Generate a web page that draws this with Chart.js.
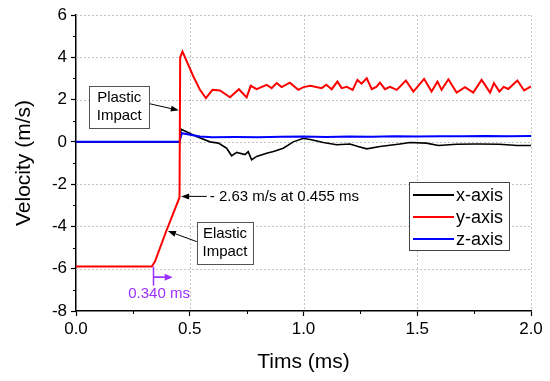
<!DOCTYPE html>
<html><head><meta charset="utf-8">
<script src="https://cdn.jsdelivr.net/npm/chart.js@4/dist/chart.umd.min.js"></script>
<style>html,body{margin:0;padding:0;background:#fff}#wrap{width:550px;height:381px}</style>
</head><body><div id="wrap"><canvas id="c" width="550" height="381"></canvas></div>
<script>
const seriesNames = ['x-axis', 'y-axis', 'z-axis'];
const seriesColors = ['#000000', '#ff0000', '#0000ff'];

const xTime = [0, 0.455, 0.462, 0.53, 0.589, 0.626, 0.662, 0.684, 0.706, 0.743, 0.757, 0.772, 0.794, 0.838, 0.868, 0.911, 0.955, 1.0, 1.04, 1.087, 1.146, 1.204, 1.24, 1.278, 1.336, 1.424, 1.468, 1.54, 1.593, 1.673, 1.76, 1.86, 1.94, 2.0];
const xVel  = [0, 0, 0.6, 0.25, 0.0, -0.06, -0.3, -0.66, -0.5, -0.6, -0.46, -0.85, -0.69, -0.54, -0.46, -0.3, 0.0, 0.17, 0.09, -0.03, -0.14, -0.1, -0.22, -0.33, -0.22, -0.1, -0.03, -0.06, -0.17, -0.11, -0.1, -0.11, -0.17, -0.17];

const yTime = [0, 0.333, 0.347, 0.396, 0.455, 0.458, 0.468, 0.516, 0.545, 0.571, 0.60, 0.633, 0.677, 0.716, 0.75, 0.768, 0.794, 0.838, 0.86, 0.882, 0.904, 0.94, 0.977, 1.0, 1.03, 1.08, 1.10, 1.124, 1.149, 1.168, 1.19, 1.216, 1.237, 1.255, 1.278, 1.30, 1.32, 1.336, 1.358, 1.38, 1.41, 1.45, 1.483, 1.53, 1.563, 1.589, 1.607, 1.637, 1.673, 1.71, 1.746, 1.783, 1.82, 1.837, 1.861, 1.88, 1.90, 1.94, 1.97, 2.0];
const yVel  = [-5.9, -5.9, -5.66, -4.24, -2.63, 4.0, 4.27, 3.09, 2.46, 2.07, 2.46, 2.43, 2.11, 2.49, 2.1, 2.65, 2.49, 2.7, 2.54, 2.78, 2.59, 2.8, 2.46, 2.59, 2.65, 2.54, 2.7, 2.49, 2.85, 2.54, 2.6, 2.46, 2.93, 2.75, 3.01, 2.49, 2.6, 2.8, 2.49, 2.6, 2.46, 2.9, 2.38, 2.98, 2.38, 2.85, 2.46, 2.96, 2.33, 2.59, 2.33, 2.93, 2.33, 2.78, 2.38, 2.6, 2.5, 2.9, 2.43, 2.62];

const zTime = [0, 0.455, 0.465, 0.545, 0.6, 0.7, 0.8, 0.9, 1.0, 1.1, 1.2, 1.3, 1.4, 1.5, 1.6, 1.7, 1.8, 1.9, 2.0];
const zVel  = [0, 0, 0.41, 0.25, 0.22, 0.23, 0.22, 0.24, 0.25, 0.23, 0.25, 0.24, 0.26, 0.25, 0.27, 0.26, 0.28, 0.27, 0.28];

const xTickLabels = ['0.0', '0.5', '1.0', '1.5', '2.0'];
const yTickLabels = ['-8', '-6', '-4', '-2', '0', '2', '4', '6'];

const FONT = '"Liberation Sans", Arial, sans-serif';
const PURPLE = '#9b30ff';

function pts(t, v) { return t.map((x, i) => ({x: x, y: v[i]})); }

function arrow(ctx, x1, y1, x2, y2, color, headLen, headW) {
  ctx.save();
  ctx.strokeStyle = color; ctx.fillStyle = color; ctx.lineWidth = 1;
  const a = Math.atan2(y2 - y1, x2 - x1);
  const bx = x2 - headLen * Math.cos(a), by = y2 - headLen * Math.sin(a);
  ctx.beginPath(); ctx.moveTo(x1, y1); ctx.lineTo(bx, by); ctx.stroke();
  ctx.beginPath();
  ctx.moveTo(x2, y2);
  ctx.lineTo(bx + headW * Math.sin(a), by - headW * Math.cos(a));
  ctx.lineTo(bx - headW * Math.sin(a), by + headW * Math.cos(a));
  ctx.closePath(); ctx.fill();
  ctx.restore();
}

const gridPlugin = {
  id: 'gridDots',
  beforeDatasetsDraw(chart) {
    const ctx = chart.ctx, xs = chart.scales.x, ys = chart.scales.y, ca = chart.chartArea;
    ctx.save();
    ctx.strokeStyle = '#c4c4c4'; ctx.lineWidth = 1; ctx.setLineDash([2, 2]);
    xTickLabels.forEach(l => {
      const v = parseFloat(l); if (v === 0) return;
      const px = Math.round(xs.getPixelForValue(v)) + 0.5;
      ctx.beginPath(); ctx.moveTo(px, ca.top); ctx.lineTo(px, ca.bottom); ctx.stroke();
    });
    yTickLabels.forEach(l => {
      const v = parseFloat(l); if (v === -8) return;
      const py = Math.round(ys.getPixelForValue(v)) + 0.5;
      ctx.beginPath(); ctx.moveTo(ca.left, py); ctx.lineTo(ca.right, py); ctx.stroke();
    });
    ctx.restore();
  }
};

const extras = {
  id: 'extras',
  afterDatasetsDraw(chart) {
    const ctx = chart.ctx, xs = chart.scales.x, ys = chart.scales.y, ca = chart.chartArea;
    const X = v => xs.getPixelForValue(v), Y = v => ys.getPixelForValue(v);
    ctx.save();
    // minor ticks
    ctx.strokeStyle = '#000'; ctx.lineWidth = 1;
    for (let v = -7; v <= 5; v += 2) {
      const py = Math.round(Y(v)) + 0.5;
      ctx.beginPath(); ctx.moveTo(ca.left - 3, py); ctx.lineTo(ca.left, py); ctx.stroke();
    }
    for (const v of [0.25, 0.75, 1.25, 1.75]) {
      const px = Math.round(X(v)) + 0.5;
      ctx.beginPath(); ctx.moveTo(px, ca.bottom); ctx.lineTo(px, ca.bottom + 3); ctx.stroke();
    }
    // annotation boxes
    ctx.font = '15px ' + FONT; ctx.textAlign = 'center'; ctx.textBaseline = 'middle'; ctx.fillStyle = '#000';
    function box(t1, v1, t2, v2, lines) {
      const x1 = X(t1), y1 = Y(v1), x2 = X(t2), y2 = Y(v2);
      ctx.fillStyle = '#fff'; ctx.fillRect(x1, y1, x2 - x1, y2 - y1);
      ctx.strokeStyle = '#555'; ctx.lineWidth = 1;
      ctx.strokeRect(Math.round(x1) + 0.5, Math.round(y1) + 0.5, Math.round(x2 - x1), Math.round(y2 - y1));
      ctx.fillStyle = '#000';
      const cx = (x1 + x2) / 2, cy = (y1 + y2) / 2;
      ctx.fillText(lines[0], cx, cy - 9);
      ctx.fillText(lines[1], cx, cy + 9);
    }
    box(0.058, 2.65, 0.322, 0.68, ['Plastic', 'Impact']);
    arrow(ctx, X(0.325), Y(1.8), X(0.452), Y(1.49), '#000', 8, 3);
    box(0.531, -3.77, 0.779, -5.74, ['Elastic', 'Impact']);
    arrow(ctx, X(0.531), Y(-4.72), X(0.404), Y(-4.22), '#000', 8, 3);
    arrow(ctx, X(0.575), Y(-2.58), X(0.462), Y(-2.58), '#000', 8, 3);
    ctx.textAlign = 'left'; ctx.fillStyle = '#000';
    ctx.fillText('- 2.63 m/s at 0.455 ms', X(0.588), Y(-2.58));
    // purple marker
    ctx.strokeStyle = PURPLE; ctx.lineWidth = 1.5;
    const px = Math.round(X(0.34)) + 0.5;
    ctx.beginPath(); ctx.moveTo(px, Y(-5.9)); ctx.lineTo(px, Y(-6.8)); ctx.stroke();
    arrow(ctx, px, Y(-6.4), X(0.425), Y(-6.4), PURPLE, 8, 3.5);
    ctx.beginPath(); ctx.lineWidth = 1.5; ctx.strokeStyle = PURPLE;
    ctx.moveTo(px, Y(-6.4)); ctx.lineTo(X(0.39), Y(-6.4)); ctx.stroke();
    ctx.fillStyle = PURPLE; ctx.textAlign = 'center';
    ctx.fillText('0.340 ms', X(0.365), Y(-7.2));
    // legend
    const lx = ca.right - 122, ly = ca.top + 167, lw = 100, lh = 68;
    ctx.fillStyle = '#fff'; ctx.fillRect(lx, ly, lw, lh);
    ctx.strokeStyle = '#444'; ctx.lineWidth = 1;
    ctx.strokeRect(Math.round(lx) + 0.5, Math.round(ly) + 0.5, lw, lh);
    ctx.font = '18px ' + FONT; ctx.textAlign = 'left'; ctx.textBaseline = 'middle';
    seriesNames.forEach((n, i) => {
      const yy = ly + 13 + i * 22;
      ctx.strokeStyle = seriesColors[i]; ctx.lineWidth = 2;
      ctx.beginPath(); ctx.moveTo(lx + 4, yy); ctx.lineTo(lx + 45, yy); ctx.stroke();
      ctx.fillStyle = '#000'; ctx.fillText(n, lx + 47, yy + 1);
    });
    ctx.restore();
  }
};

new Chart(document.getElementById('c'), {
  type: 'scatter',
  data: {
    datasets: [
      {label: seriesNames[0], data: pts(xTime, xVel), borderColor: seriesColors[0], borderWidth: 1.6, showLine: true, pointRadius: 0, order: 2},
      {label: seriesNames[1], data: pts(yTime, yVel), borderColor: seriesColors[1], borderWidth: 2, showLine: true, pointRadius: 0, order: 0},
      {label: seriesNames[2], data: pts(zTime, zVel), borderColor: seriesColors[2], borderWidth: 2, showLine: true, pointRadius: 0, order: 1}
    ]
  },
  options: {
    responsive: false, animation: false, devicePixelRatio: 1,
    layout: {padding: {left: 0, top: 15, right: 19, bottom: 0}},
    plugins: {legend: {display: false}, tooltip: {enabled: false}},
    scales: {
      x: {
        type: 'linear', min: 0, max: 2,
        afterFit(s) { s.height = 70; },
        afterBuildTicks(s) { s.ticks = xTickLabels.map(l => ({value: parseFloat(l)})); },
        ticks: {callback: (v) => v.toFixed(1), color: '#000', font: {family: FONT, size: 17}, padding: 3, maxRotation: 0},
        grid: {drawOnChartArea: false, tickLength: 5, tickColor: '#000', tickWidth: 1.2},
        border: {color: '#000', width: 1.5},
        title: {display: true, text: 'Tims (ms)', color: '#000', font: {family: FONT, size: 21}, padding: {top: 0, bottom: 6}}
      },
      y: {
        type: 'linear', min: -8, max: 6,
        afterFit(s) { s.width = 76; },
        afterBuildTicks(s) { s.ticks = yTickLabels.map(l => ({value: parseFloat(l)})); },
        ticks: {callback: (v) => String(v), color: '#000', font: {family: FONT, size: 17}, padding: 4},
        grid: {drawOnChartArea: false, tickLength: 5, tickColor: '#000', tickWidth: 1.2},
        border: {color: '#000', width: 1.5},
        title: {display: true, text: 'Velocity (m/s)', color: '#000', font: {family: FONT, size: 21}, padding: {top: 12, bottom: 0}}
      }
    }
  },
  plugins: [gridPlugin, extras]
});
</script></body></html>
